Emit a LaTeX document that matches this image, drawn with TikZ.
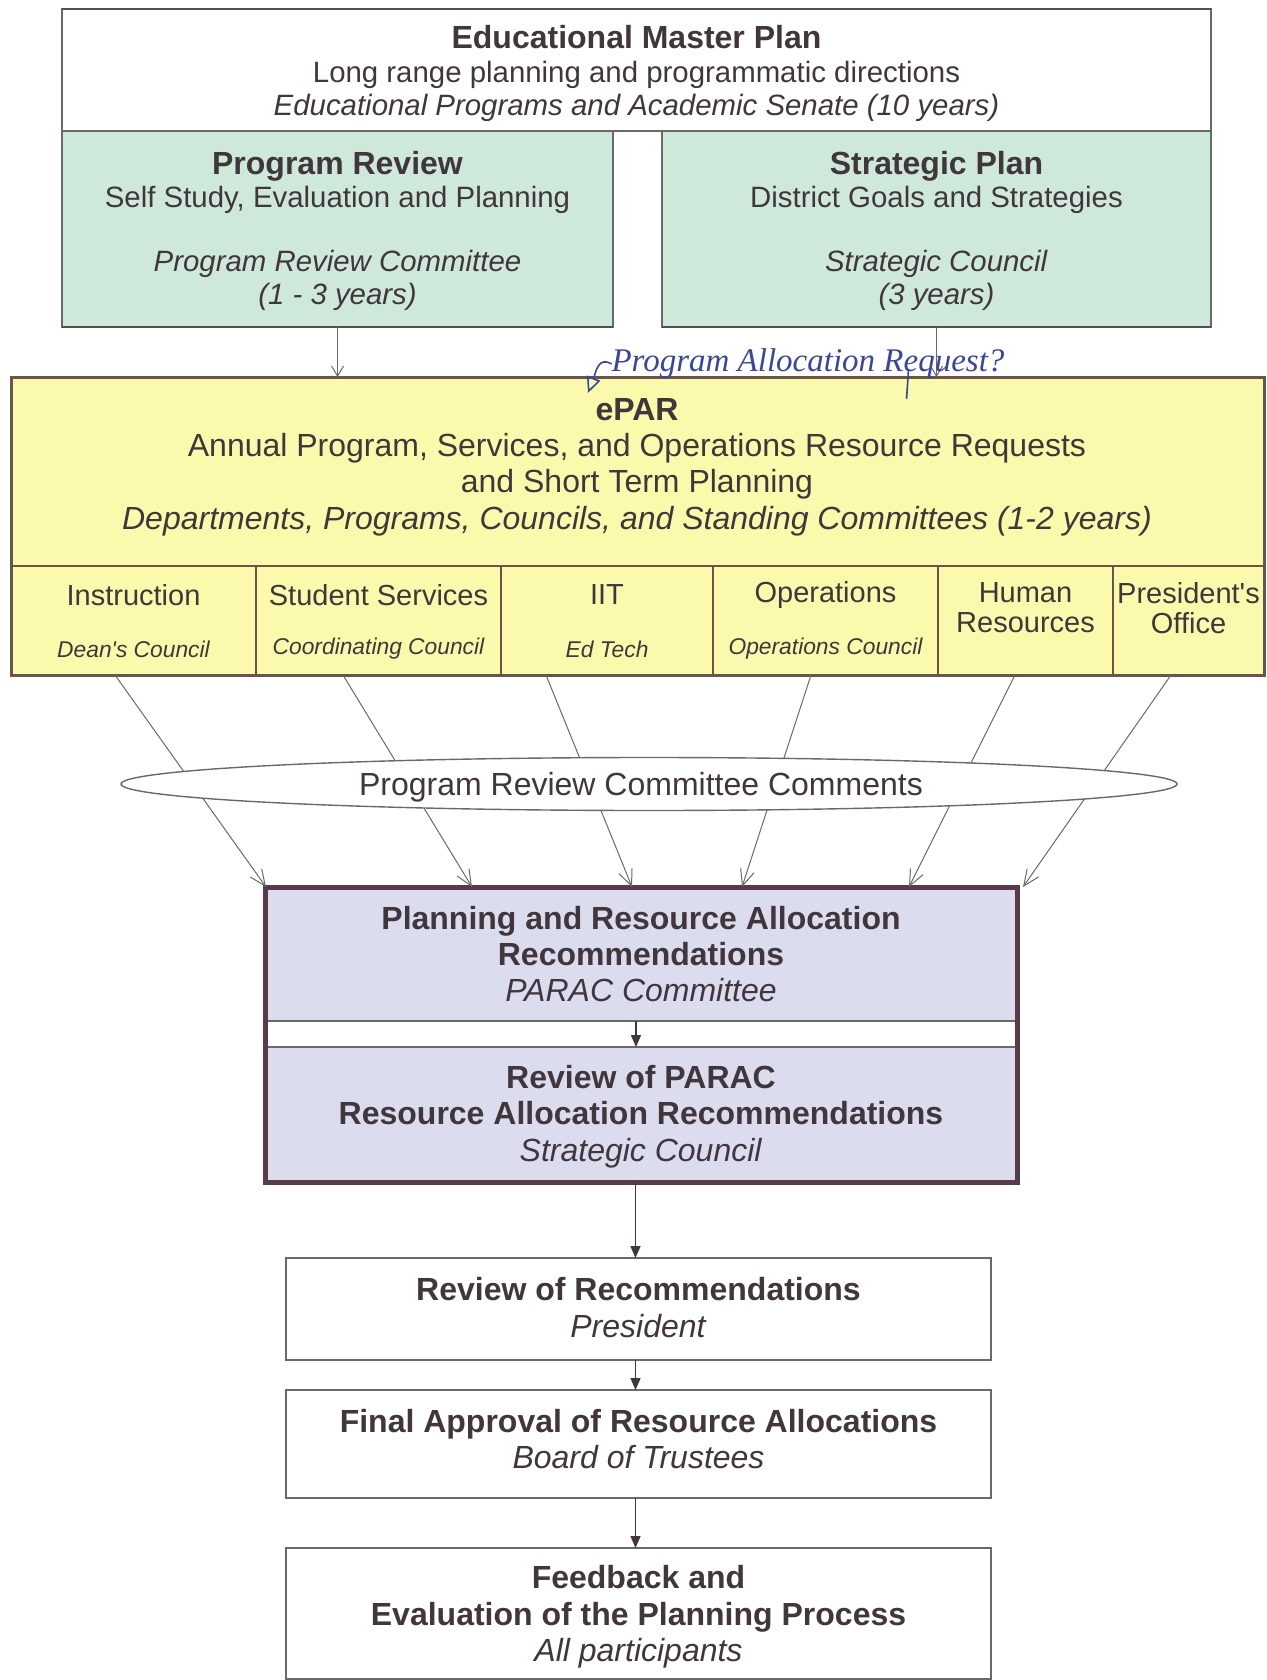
\documentclass[tikz,border=0pt]{standalone}
\usepackage{fontspec}
\setmainfont{Liberation Sans}
\newfontfamily\handfont{Liberation Serif}
\usetikzlibrary{arrows.meta,shapes.geometric,calc}
\definecolor{txt}{RGB}{64,54,60}
\definecolor{greenf}{RGB}{206,233,218}
\definecolor{yellowf}{RGB}{251,250,172}
\definecolor{lavf}{RGB}{219,221,238}
\definecolor{edge}{RGB}{105,105,105}
\definecolor{darkedge}{RGB}{80,80,80}
\definecolor{framec}{RGB}{88,58,72}
\definecolor{epedge}{RGB}{105,85,75}
\definecolor{ink}{RGB}{55,70,160}
\begin{document}
\begin{tikzpicture}[x=0.5pt,y=-0.5pt,
  every node/.style={inner sep=0pt, outer sep=0pt, text=txt},
  box/.style={draw=edge, line width=0.8pt, rectangle},
  lbl/.style={align=center},
  topfont/.style={font=\fontsize{14.7}{16.8}\selectfont},
  bigfont/.style={font=\fontsize{16}{18.2}\selectfont},
  cell/.style={draw=epedge, line width=0.6pt, fill=yellowf, rectangle, minimum height=54.5pt},
  subname/.style={font=\fontsize{14.5}{15}\selectfont, align=center},
  subrole/.style={font=\fontsize{11.4}{13}\selectfont\itshape},
  thinarrow/.style={draw=edge, line width=0.5pt, -{Straight Barb[length=5pt,width=6pt]}},
  diag/.style={draw=edge, line width=0.5pt, -{Straight Barb[length=8pt,width=7pt]}},
  fillarrow/.style={draw=txt, line width=0.7pt, -{Triangle[length=6pt,width=5pt]}}
]
\path[use as bounding box] (0,0) rectangle (1267,1680);

% top boxes
\node[box, fill=white, minimum width=574.5pt, minimum height=61pt] (emp) at (636.5,70) {};
\node[lbl, topfont] (emptext) at (636.5,73.5)
  {{\fontsize{16}{17}\selectfont\bfseries Educational Master Plan}\\Long range planning and programmatic directions\\\textit{Educational Programs and Academic Senate (10 years)}};
\node[box, fill=greenf, minimum width=275.5pt, minimum height=98pt] (pr) at (337.5,229) {};
\node[lbl, topfont] (prtext) at (337.5,231)
  {{\fontsize{16}{17}\selectfont\bfseries Program Review}\\Self Study, Evaluation and Planning\\[15pt]\textit{Program Review Committee}\\\textit{(1 - 3 years)}};
\node[box, fill=greenf, minimum width=274.5pt, minimum height=98pt] (sp) at (936.5,229) {};
\node[lbl, topfont] (sptext) at (936.5,231)
  {{\fontsize{16}{17}\selectfont\bfseries Strategic Plan}\\District Goals and Strategies\\[15pt]\textit{Strategic Council}\\\textit{(3 years)}};
\draw[darkedge, line width=1.2pt] (pr.south west) -- (pr.south east);
\draw[darkedge, line width=1.2pt] (sp.south west) -- (sp.south east);
\draw[darkedge, line width=1.2pt] (emp.north west) -- (emp.north east);

% ePAR
\node[rectangle, fill=yellowf, minimum width=626.5pt, minimum height=149pt] (epar) at (637.5,526) {};
\node[lbl, bigfont] (epartext) at (637,467)
  {\textbf{ePAR}\\Annual Program, Services, and Operations Resource Requests\\and Short Term Planning\\\textit{Departments, Programs, Councils, and Standing Committees (1-2 years)}};
\node[cell, minimum width=122.5pt] (c1) at (133.5,620.5) {};
\node[cell, minimum width=122.5pt] (c2) at (378.5,620.5) {};
\node[cell, minimum width=106pt] (c3) at (607,620.5) {};
\node[cell, minimum width=112.5pt] (c4) at (825.5,620.5) {};
\node[cell, minimum width=87.5pt] (c5) at (1025.5,620.5) {};
\node[cell, minimum width=75.5pt] (c6) at (1188.5,620.5) {};
\draw[draw=epedge, line width=1.5pt] (epar.north west) rectangle (epar.south east);
\node[subname] (c1n) at (133.5,595) {Instruction};
\node[subrole] (c1r) at (133.5,649) {Dean\textquotesingle s Council};
\node[subname] (c2n) at (378.5,595) {Student Services};
\node[subrole] (c2r) at (378.5,649) {Coordinating Council};
\node[subname] (c3n) at (607,595) {IIT};
\node[subrole] (c3r) at (607,649) {Ed Tech};
\node[subname] (c4n) at (825.5,595) {Operations};
\node[subrole] (c4r) at (825.5,648.5) {Operations Council};
\node[subname] (c5n) at (1025.5,608) {Human\\Resources};
\node[subname] (c6n) at (1188.5,608) {President\textquotesingle s\\Office};

% arrows from top boxes
\draw[thinarrow] (pr.south) -- (pr.south |- epar.north);
\draw[thinarrow] (sp.south) -- (sp.south |- epar.north);

% handwritten note
\node[font=\handfont\itshape\fontsize{16.5}{16.5}\selectfont, text=ink] (note) at (808,364) {Program Allocation Request?};
\coordinate (notetip) at (588,393);
\draw[ink, line width=0.8pt, -{Triangle[open,length=8pt,width=7pt]}] (note.west) .. controls (598,356) and (596,372) .. (notetip);
\draw[ink, line width=0.8pt] ($(note.south west)+(297,-10)$) -- ($(note.south west)+(295,20)$);

% PARAC
\node[box, fill=lavf, minimum width=376pt, minimum height=67pt] (parac1) at (641,954) {};
\node[lbl, bigfont] (parac1text) at (641,954)
  {\textbf{Planning and Resource Allocation}\\\textbf{Recommendations}\\\textit{PARAC Committee}};
\node[box, fill=lavf, minimum width=376pt, minimum height=67.5pt] (parac2) at (641,1114.5) {};
\node[lbl, bigfont] (parac2text) at (641,1116.5)
  {\textbf{Review of PARAC}\\\textbf{Resource Allocation Recommendations}\\\textit{Strategic Council}};
\node[draw=framec, line width=2.5pt, rectangle, minimum width=376pt, minimum height=147.5pt] (paracframe) at (641,1034.5) {};
\draw[fillarrow] ($(parac1.south)+(-5,0)$) -- ($(parac2.north)+(-5,0)$);

% diagonal arrows
\draw[diag] ($(c1.south)+(-18.5,0)$) -- ($(paracframe.north west)+(1,0)$);
\draw[diag] ($(c2.south)+(-35.5,0)$) -- ($(paracframe.north west)+(207,0)$);
\draw[diag] ($(c3.south)+(-61,0)$) -- ($(paracframe.north west)+(367,0)$);
\draw[diag] ($(c4.south)+(-14.5,0)$) -- ($(paracframe.north west)+(477,0)$);
\draw[diag] ($(c5.south)+(-10.5,0)$) -- ($(paracframe.north west)+(644,0)$);
\draw[diag] ($(c6.south)+(-17.5,0)$) -- ($(paracframe.north west)+(758,0)$);

% ellipse
\node[ellipse, draw=edge, line width=0.7pt, fill=white, minimum width=528pt, minimum height=26.5pt] (prcc) at (649,784) {};
\node[bigfont] (prcctext) at (641,787) {Program Review Committee Comments};

% lower boxes
\node[box, fill=white, minimum width=352.5pt, minimum height=51pt] (review) at (638.5,1309) {};
\node[lbl, bigfont] (reviewtext) at (638.5,1307.5) {\textbf{Review of Recommendations}\\\textit{President}};
\node[box, fill=white, minimum width=352.5pt, minimum height=54pt] (final) at (638.5,1444) {};
\node[lbl, bigfont] (finaltext) at (638.5,1439) {\textbf{Final Approval of Resource Allocations}\\\textit{Board of Trustees}};
\node[box, fill=white, minimum width=352.5pt, minimum height=65.5pt] (feedback) at (638.5,1613.5) {};
\node[lbl, bigfont] (feedbacktext) at (638.5,1617)
  {\textbf{Feedback and}\\\textbf{Evaluation of the Planning Process}\\\textit{All participants}};
\draw[fillarrow] ($(review.north |- paracframe.south)+(-3,0)$) -- ($(review.north)+(-3,0)$);
\draw[fillarrow] ($(review.south)+(-3,0)$) -- ($(final.north)+(-3,0)$);
\draw[fillarrow] ($(final.south)+(-3,0)$) -- ($(feedback.north)+(-3,0)$);
\end{tikzpicture}
\end{document}
